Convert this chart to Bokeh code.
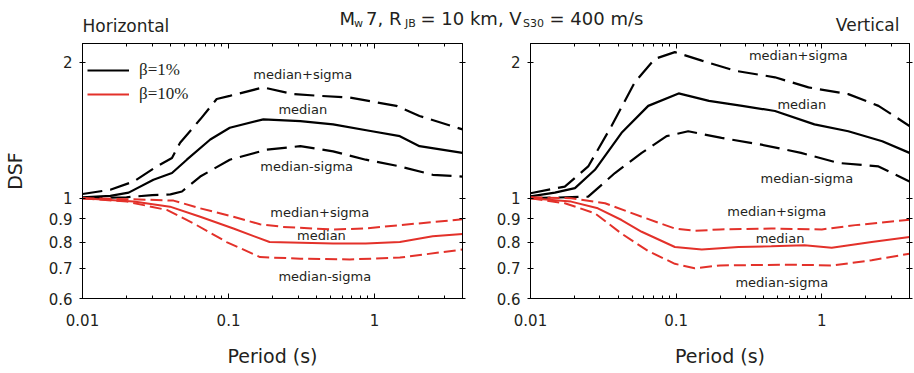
from bokeh.plotting import figure
from bokeh.layouts import column, row
from bokeh.models import (Range1d, FixedTicker, LogAxis, Label, Legend,
                          LegendItem, CustomJSTickFormatter)
from bokeh.core.properties import value
from bokeh.embed import file_html
from bokeh.resources import INLINE

# ---------------- data ----------------
# Horizontal, beta = 1 %
h1_up_T = [0.01, 0.0155, 0.0224, 0.0323, 0.041, 0.0466, 0.064, 0.083, 0.102, 0.173, 0.277, 0.42, 0.676, 1.41, 2.03, 4.0]
h1_up = [1.022, 1.044, 1.089, 1.176, 1.228, 1.327, 1.495, 1.658, 1.685, 1.759, 1.70, 1.685, 1.67, 1.601, 1.521, 1.42]
h1_med_T = [0.01, 0.0155, 0.0207, 0.0306, 0.041, 0.0518, 0.075, 0.102, 0.173, 0.31, 0.52, 0.96, 1.49, 2.03, 4.0]
h1_med = [1.005, 1.012, 1.029, 1.099, 1.137, 1.217, 1.349, 1.432, 1.495, 1.482, 1.457, 1.407, 1.372, 1.304, 1.26]
h1_lo_T = [0.01, 0.02, 0.03, 0.04, 0.048, 0.064, 0.102, 0.183, 0.31, 0.52, 0.87, 1.49, 2.5, 4.0]
h1_lo = [1.0, 1.005, 1.016, 1.02, 1.035, 1.117, 1.217, 1.281, 1.304, 1.27, 1.217, 1.176, 1.127, 1.117]
# Horizontal, beta = 10 %
h10_up_T = [0.01, 0.0224, 0.042, 0.064, 0.108, 0.164, 0.236, 0.52, 0.87, 1.49, 4.0]
h10_up = [1.0, 0.995, 0.988, 0.95, 0.91, 0.876, 0.864, 0.853, 0.857, 0.872, 0.898]
h10_med_T = [0.01, 0.0224, 0.0397, 0.064, 0.108, 0.191, 0.52, 0.87, 1.49, 2.5, 4.0]
h10_med = [1.0, 0.983, 0.958, 0.91, 0.857, 0.80, 0.794, 0.794, 0.80, 0.824, 0.833]
h10_lo_T = [0.01, 0.0202, 0.0378, 0.0575, 0.097, 0.164, 0.31, 0.676, 1.49, 4.0]
h10_lo = [1.0, 0.983, 0.942, 0.88, 0.80, 0.741, 0.735, 0.732, 0.739, 0.770]
# Vertical, beta = 1 %
v1_up_T = [0.01, 0.0172, 0.0249, 0.036, 0.052, 0.0715, 0.098, 0.15, 0.254, 0.477, 0.81, 1.52, 2.45, 4.0]
v1_up = [1.026, 1.061, 1.176, 1.445, 1.805, 2.035, 2.105, 2.016, 1.915, 1.852, 1.759, 1.70, 1.601, 1.445]
v1_med_T = [0.01, 0.0147, 0.0202, 0.0277, 0.0422, 0.0643, 0.104, 0.168, 0.284, 0.477, 0.89, 1.52, 2.6, 4.0]
v1_med = [1.01, 1.029, 1.053, 1.156, 1.396, 1.601, 1.706, 1.642, 1.601, 1.56, 1.457, 1.407, 1.337, 1.26]
v1_lo_T = [0.01, 0.0249, 0.038, 0.058, 0.086, 0.121, 0.205, 0.385, 0.72, 1.3, 2.45, 4.0]
v1_lo = [1.0, 1.008, 1.137, 1.26, 1.372, 1.407, 1.36, 1.314, 1.26, 1.197, 1.176, 1.089]
# Vertical, beta = 10 %
v10_up_T = [0.01, 0.019, 0.0325, 0.058, 0.098, 0.134, 0.2, 0.45, 1.0, 1.7, 4.0]
v10_up = [1.005, 1.0, 0.975, 0.91, 0.857, 0.847, 0.853, 0.857, 0.853, 0.872, 0.896]
v10_med_T = [0.01, 0.019, 0.029, 0.0422, 0.058, 0.098, 0.15, 0.268, 0.45, 0.76, 1.17, 2.2, 4.0]
v10_med = [1.0, 0.983, 0.95, 0.895, 0.843, 0.78, 0.77, 0.78, 0.783, 0.787, 0.777, 0.80, 0.821]
v10_lo_T = [0.01, 0.0172, 0.0277, 0.0422, 0.0643, 0.098, 0.134, 0.2, 0.59, 1.17, 2.2, 4.0]
v10_lo = [1.0, 0.975, 0.926, 0.835, 0.764, 0.716, 0.70, 0.71, 0.713, 0.71, 0.729, 0.754]

x_major = [0.01, 0.1, 1]
x_minor = [0.02, 0.03, 0.04, 0.05, 0.06, 0.07, 0.08, 0.09,
           0.2, 0.3, 0.4, 0.5, 0.6, 0.7, 0.8, 0.9, 2, 3, 4]
y_ticks = [0.6, 0.7, 0.8, 0.9, 1, 2]

curve_labels = ["median+sigma", "median", "median-sigma"] * 2
legend_labels = ["\u03b2=1%", "\u03b2=10%"]
# label anchor positions (period, DSF) for the curve annotations
h_lab_T = [0.3225, 0.3225, 0.343, 0.4216, 0.4329, 0.456]
h_lab_y = [1.874, 1.573, 1.174, 0.9307, 0.828, 0.672]
v_lab_T = [0.69, 0.729, 0.789, 0.491, 0.517, 0.531]
v_lab_y = [2.069, 1.615, 1.108, 0.937, 0.814, 0.652]

FONT = "DejaVu Sans"
TXT = "#231f20"
RED = "#e3312a"
BLACK_DASH = "20 8"
RED_DASH = "12 5"


def make_panel(width, bl, br, curves, lab_T, lab_y, ylabel, legend):
    p = figure(width=width, height=330, x_axis_type="log", y_axis_type="log",
               x_range=Range1d(0.01, 4), y_range=Range1d(0.6, 2.2),
               min_border_left=bl, min_border_right=br,
               min_border_top=0, min_border_bottom=75, title_location=None,
               output_backend="svg", toolbar_location=None)
    p.grid.visible = False
    p.outline_line_color = "black"
    p.outline_line_width = 1
    p.background_fill_color = "white"
    p.border_fill_color = "white"
    fmt = CustomJSTickFormatter(code="return tick.toString();")
    blank = CustomJSTickFormatter(code="return '';")

    xa = p.xaxis[0]
    xa.ticker = FixedTicker(ticks=x_major, minor_ticks=x_minor)
    xa.formatter = fmt
    xa.major_tick_in = 5
    xa.major_tick_out = 0
    xa.minor_tick_in = 3
    xa.minor_tick_out = 0
    xa.major_label_standoff = 15
    xa.major_label_text_font = FONT
    xa.major_label_text_font_size = "15px"
    xa.major_label_text_color = TXT
    xa.axis_label = "Period (s)"
    xa.axis_label_text_font = FONT
    xa.axis_label_text_font_size = "19px"
    xa.axis_label_text_font_style = "normal"
    xa.axis_label_text_color = TXT
    xa.axis_label_standoff = 16
    xa.axis_line_color = "black"
    xa.major_tick_line_color = "black"
    xa.minor_tick_line_color = "black"

    ya = p.yaxis[0]
    ya.ticker = FixedTicker(ticks=y_ticks)
    ya.formatter = fmt
    ya.major_tick_in = 3
    ya.major_tick_out = 3
    ya.minor_tick_line_color = None
    ya.major_label_standoff = 7
    ya.major_label_text_font = FONT
    ya.major_label_text_font_size = "15px"
    ya.major_label_text_color = TXT
    ya.axis_line_color = "black"
    if ylabel:
        ya.axis_label = ylabel
        ya.axis_label_text_font = FONT
        ya.axis_label_text_font_size = "19px"
        ya.axis_label_text_font_style = "normal"
        ya.axis_label_text_color = TXT
        ya.axis_label_standoff = 20

    top = LogAxis(ticker=FixedTicker(ticks=x_major, minor_ticks=x_minor),
                  formatter=blank,
                  major_tick_in=5, major_tick_out=0, minor_tick_in=3, minor_tick_out=0,
                  major_label_text_font_size="6px", major_label_standoff=0,
                  axis_line_color="black")
    p.add_layout(top, "above")
    right = LogAxis(ticker=FixedTicker(ticks=y_ticks), formatter=blank,
                    major_tick_in=3, major_tick_out=3, minor_tick_line_color=None,
                    major_label_text_font_size="6px", major_label_standoff=0,
                    axis_line_color="black")
    p.add_layout(right, "right")

    rends = {}
    for key, (T, v, color, dash, lw) in curves.items():
        kw = dict(line_color=color, line_width=lw)
        if dash:
            kw["line_dash"] = dash
        rends[key] = p.line(T, v, **kw)

    p.text(x=lab_T, y=lab_y, text=curve_labels, text_font=value(FONT),
           text_font_size="13px", text_align="center", text_baseline="middle",
           text_color=TXT)

    if legend:
        items = [LegendItem(label=legend_labels[0], renderers=[rends["b1_med"]]),
                 LegendItem(label=legend_labels[1], renderers=[rends["b10_med"]])]
        lg = Legend(items=items, location=(5, 194), padding=5, margin=0,
                    spacing=4, glyph_width=42, glyph_height=20, label_height=20,
                    label_standoff=10, border_line_color=None,
                    background_fill_alpha=0,
                    label_text_font="Liberation Serif", label_text_font_size="17px",
                    label_text_color=TXT)
        p.add_layout(lg, "center")
    return p


h_curves = {
    "b1_up": (h1_up_T, h1_up, "black", BLACK_DASH, 2.2),
    "b1_med": (h1_med_T, h1_med, "black", None, 2.2),
    "b1_lo": (h1_lo_T, h1_lo, "black", BLACK_DASH, 2.2),
    "b10_up": (h10_up_T, h10_up, RED, RED_DASH, 2.0),
    "b10_med": (h10_med_T, h10_med, RED, None, 2.0),
    "b10_lo": (h10_lo_T, h10_lo, RED, RED_DASH, 2.0),
}
v_curves = {
    "b1_up": (v1_up_T, v1_up, "black", BLACK_DASH, 2.2),
    "b1_med": (v1_med_T, v1_med, "black", None, 2.2),
    "b1_lo": (v1_lo_T, v1_lo, "black", BLACK_DASH, 2.2),
    "b10_up": (v10_up_T, v10_up, RED, RED_DASH, 2.0),
    "b10_med": (v10_med_T, v10_med, RED, None, 2.0),
    "b10_lo": (v10_lo_T, v10_lo, RED, RED_DASH, 2.0),
}

left = make_panel(472, 82, 10, h_curves, h_lab_T, h_lab_y, "DSF", True)
right_p = make_panel(442, 58, 5, v_curves, v_lab_T, v_lab_y, None, False)

# ---------------- header strip with title and panel names ----------------
H = 43
head = figure(width=914, height=H, x_range=Range1d(0, 914), y_range=Range1d(0, H),
              min_border=0, title_location=None,
              output_backend="svg", toolbar_location=None)
head.axis.visible = False
head.grid.visible = False
head.outline_line_color = None

MAIN, SUB = "18px", "11px"
title_parts = ["M", "w", "7, R", "JB", "= 10 km, V", "S30", "= 400 m/s"]
title_is_sub = [False, True, False, True, False, True, False]
title_x = [339, 353.5, 365.5, 404.5, 420, 522.5, 549]
for txt, sub, x in zip(title_parts, title_is_sub, title_x):
    head.add_layout(Label(x=x, y=H - (22.5 if sub else 17.5), text=txt,
                          text_font=FONT, text_font_size=SUB if sub else MAIN,
                          text_color=TXT, text_align="left", text_baseline="alphabetic"))
head.add_layout(Label(x=82, y=H - 25.5, text="Horizontal", text_font=FONT,
                      text_font_size="17px", text_color=TXT, text_align="left",
                      text_baseline="alphabetic"))
head.add_layout(Label(x=899, y=H - 24, text="Vertical", text_font=FONT,
                      text_font_size="17px", text_color=TXT, text_align="right",
                      text_baseline="alphabetic"))

layout = column(head, row(left, right_p, spacing=0), spacing=0)
open("out.html", "w").write(file_html(layout, INLINE))
